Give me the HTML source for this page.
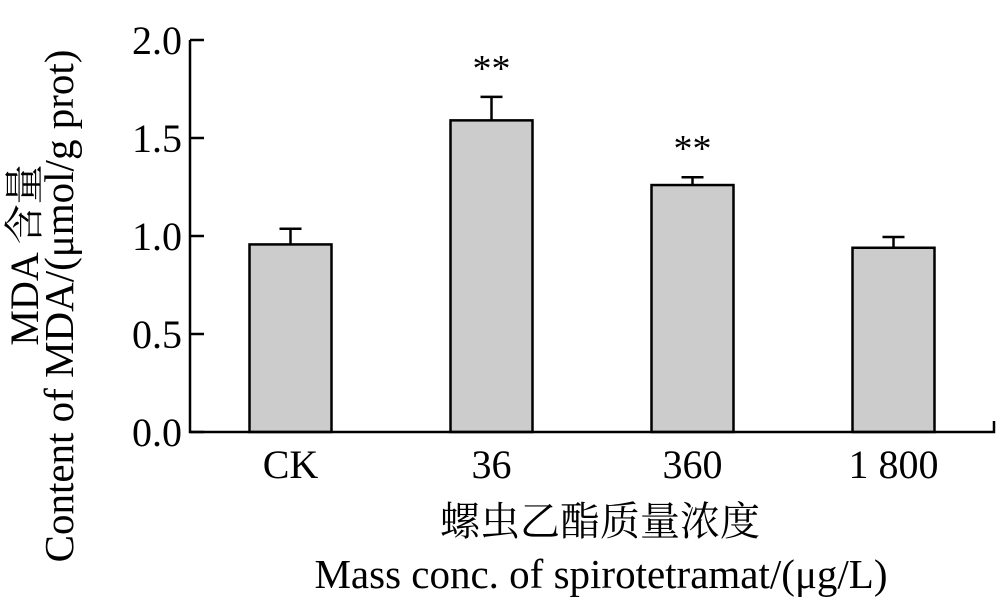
<!DOCTYPE html>
<html><head><meta charset="utf-8"><style>
body{margin:0;background:#fff}
text{font-family:"Liberation Serif","Noto Serif CJK SC",serif;fill:#000}
</style></head><body>
<svg id="chart" width="1000" height="600" xmlns="http://www.w3.org/2000/svg"></svg>
<script>
const categories=["CK","36","360","1 800"];
const values=[0.957,1.59,1.26,0.94];
const errors=[0.08,0.12,0.04,0.055];
const sigLabels=["","**","**",""];
const yTicks=[0,0.5,1.0,1.5,2.0];
const yTickLabels=["0.0","0.5","1.0","1.5","2.0"];
const NS="http://www.w3.org/2000/svg";
const svg=document.getElementById('chart');
const x0=190,x1=994,y0=432,y1=40,yMax=2.0;
const band=(x1-x0)/categories.length,barW=82;
const y=v=>y0-(v/yMax)*(y0-y1);
const cx=i=>x0+band*(i+0.5);
function mk(tag,attrs,txt){const e=document.createElementNS(NS,tag);for(const k in attrs)e.setAttribute(k,attrs[k]);if(txt!==undefined)e.textContent=txt;svg.appendChild(e);return e;}
categories.forEach((c,i)=>{
  const b=mk('rect',{x:cx(i)-barW/2,y:y(values[i]),width:barW,height:y0-y(values[i]),fill:'#cccccc',stroke:'#000','stroke-width':2.5});
  
  
  const te=y(values[i]+errors[i]);
  const e=mk('path',{d:`M${cx(i)} ${y(values[i])}V${te}M${cx(i)-11} ${te}H${cx(i)+11}`,stroke:'#000','stroke-width':2.5,fill:'none'});
  
  
  if(sigLabels[i]){
    const s=mk('text',{x:cx(i),y:te-16,'text-anchor':'middle','font-size':38},sigLabels[i]);
    
    
  }
  const l=mk('text',{x:cx(i),y:478,'text-anchor':'middle','font-size':40},c);
  
  
});
const ax=mk('path',{d:`M${x0} ${y1}V${y0}H${x1}V${y0-11}`,stroke:'#000','stroke-width':2.5,fill:'none'});


yTicks.forEach((t,i)=>{
  const tk=mk('path',{d:`M${x0} ${y(t)}H${x0+14}`,stroke:'#000','stroke-width':2.5});
  
  
  const tl=mk('text',{x:x0-8,y:y(t)+14,'text-anchor':'end','font-size':40},yTickLabels[i]);
  
  
});
const t1=mk('text',{x:0,y:0,'text-anchor':'middle','font-size':40,transform:'translate(38,255) rotate(-90)'},'MDA 含量');


const t2=mk('text',{x:0,y:0,'text-anchor':'middle','font-size':41,transform:'translate(73,306) rotate(-90)'},'Content of MDA/(μmol/g prot)');


const t3=mk('text',{x:600,y:535,'text-anchor':'middle','font-size':40},'螺虫乙酯质量浓度');


const t4=mk('text',{x:601,y:588,'text-anchor':'middle','font-size':41},'Mass conc. of spirotetramat/(μg/L)');


</script>
</body></html>
